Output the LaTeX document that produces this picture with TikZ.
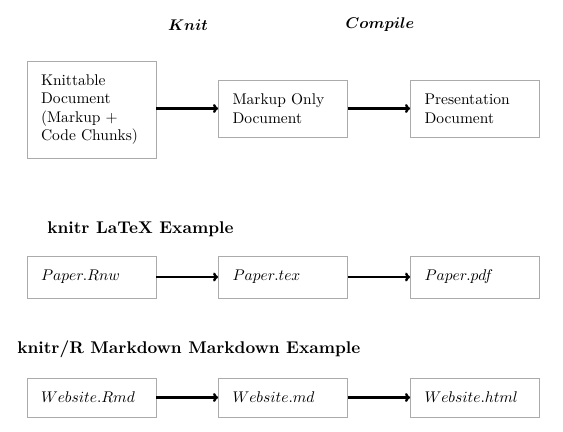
\documentclass[tikz,border=0pt]{standalone}
\usepackage{amsmath,bm}
\usetikzlibrary{arrows.meta}
\def\pxu{0.645}
\tikzset{
  docbox/.style={draw=black!33, line width={0.9*\pxu pt}, minimum width={129*\pxu pt}, text width={101*\pxu pt},
    inner xsep={14*\pxu pt}, inner ysep=0pt, align=left, font=\fontsize{10pt}{12pt}\selectfont},
  flow/.style={-{To[length={5*\pxu pt},width={9*\pxu pt}]}, line width={2.4*\pxu pt}},
  heading/.style={anchor=west, inner sep=0pt, font=\fontsize{10.95pt}{13pt}\selectfont\bfseries},
  stage/.style={inner sep=0pt, font=\fontsize{10pt}{12pt}\selectfont}
}
\begin{document}
\begin{tikzpicture}[x=\pxu pt,y=-\pxu pt]
\useasboundingbox (0,0) rectangle (563,431);
\node[stage] (knit) at (188,25) {$\bm{Knit}$};
\node[stage] (compile) at (380,25) {$\bm{Compile}$};
\node[docbox, minimum height={97*\pxu pt}] (a1) at (91.5,109.5) {Knittable\\Document\\(Markup +\\Code Chunks)};
\node[docbox, minimum height={57*\pxu pt}] (a2) at (283,108.5) {Markup Only\\Document};
\node[docbox, minimum height={57*\pxu pt}] (a3) at (475,108.5) {Presentation\\Document};
\draw[flow] (a1.east |- a2.center) -- (a2.west);
\draw[flow] (a2) -- (a3);

\node[heading] (h2) at (47,229) {knitr LaTeX Example};
\node[docbox, minimum height={42*\pxu pt}] (b1) at (91.5,277) {$Paper.Rnw$};
\node[docbox, minimum height={42*\pxu pt}] (b2) at (283,277) {$Paper.tex$};
\node[docbox, minimum height={42*\pxu pt}] (b3) at (475,277) {$Paper.pdf$};
\draw[flow] (b1) -- (b2);
\draw[flow] (b2) -- (b3);

\node[heading] (h3) at (17,349) {knitr/R Markdown Markdown Example};
\node[docbox, minimum height={39*\pxu pt}] (c1) at (91.5,397.5) {$Website.Rmd$};
\node[docbox, minimum height={39*\pxu pt}] (c2) at (283,397.5) {$Website.md$};
\node[docbox, minimum height={39*\pxu pt}] (c3) at (475,397.5) {$Website.html$};
\draw[flow] (c1) -- (c2);
\draw[flow] (c2) -- (c3);
\end{tikzpicture}
\end{document}
